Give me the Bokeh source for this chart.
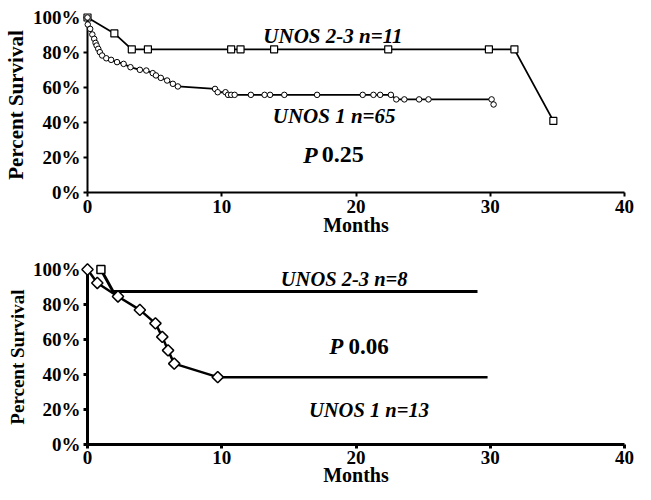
import math
from bokeh.plotting import figure
from bokeh.layouts import column
from bokeh.models import Label, FixedTicker
from bokeh.embed import file_html
from bokeh.resources import INLINE

# ---------------- data ----------------
# Top panel
top_unos23_months = [0, 2.0, 3.3, 4.5, 10.7, 11.4, 13.9, 22.4, 29.9, 31.8, 34.7]
top_unos23_surv = [100, 90.9, 81.8, 81.8, 81.8, 81.8, 81.8, 81.8, 81.8, 81.8, 40.9]

top_unos1_months = [0, 0.02, 0.2, 0.36, 0.5, 0.6, 0.68, 0.8, 0.92, 1.09, 1.4, 1.76, 2.2,
                    2.69, 3.2, 3.9, 4.38, 4.86, 5.1, 5.46, 5.93, 6.36, 6.73, 9.5, 9.7,
                    10.28, 10.47, 10.7, 10.96, 12.17, 13.19, 13.6, 14.66, 17.1, 20.5,
                    21.3, 21.8, 22.6, 23.0, 23.6, 24.7, 25.4, 30.1, 30.25]
top_unos1_surv = [100, 96.0, 93.5, 90.3, 87.8, 85.5, 84.0, 82.1, 80.2, 78.3, 76.7, 75.8, 74.5,
                  73.5, 71.6, 70.1, 69.7, 68.2, 66.9, 65.5, 64.0, 62.1, 60.6, 59.2, 57.3,
                  57.3, 55.8, 55.8, 55.8, 55.8, 55.8, 55.8, 55.8, 55.8, 55.8,
                  55.8, 55.8, 55.8, 53.2, 53.2, 53.2, 53.2, 53.2, 50.3]

# Bottom panel
bot_unos23_months = [1.0, 1.9, 29.05]
bot_unos23_surv = [100, 87.5, 87.5]

bot_unos1_months = [0, 0.73, 2.27, 3.9, 5.06, 5.57, 6.0, 6.46, 9.7, 29.8]
bot_unos1_surv = [100, 92.3, 84.6, 76.9, 69.2, 61.5, 53.8, 46.2, 38.5, 38.5]

x_ticks = [0, 10, 20, 30, 40]
y_ticks = [0, 20, 40, 60, 80, 100]
y_tick_labels = ["0%", "20%", "40%", "60%", "80%", "100%"]

FONT = "Liberation Serif"


def make_panel(height, b_top, b_bottom, axis_w, ylabel_size, xlabel_standoff, xtick_standoff):
    p = figure(width=635, height=height, x_range=(0, 40), y_range=(0, 100),
               output_backend="svg", toolbar_location=None,
               min_border_left=81, min_border_right=11,
               min_border_top=b_top, min_border_bottom=b_bottom)
    p.outline_line_color = None
    p.grid.visible = False
    p.background_fill_color = "white"
    p.border_fill_color = "white"
    for ax in (p.xaxis[0], p.yaxis[0]):
        ax.axis_line_width = axis_w
        ax.axis_line_color = "black"
        ax.major_tick_line_width = axis_w
        ax.major_tick_line_color = "black"
        ax.major_tick_out = 4
        ax.major_tick_in = 0
        ax.minor_tick_line_color = None
        ax.major_label_text_font = FONT
        ax.major_label_text_font_style = "bold"
        ax.major_label_text_font_size = "19px"
        ax.major_label_text_color = "black"
        ax.major_label_standoff = 3
        ax.axis_label_text_font = FONT
        ax.axis_label_text_font_style = "bold"
        ax.axis_label_text_color = "black"
    p.xaxis.ticker = FixedTicker(ticks=x_ticks)
    p.yaxis.ticker = FixedTicker(ticks=y_ticks)
    p.yaxis.major_label_overrides = dict(zip(y_ticks, y_tick_labels))
    p.xaxis.major_label_standoff = xtick_standoff
    p.xaxis.axis_label = "Months"
    p.xaxis.axis_label_text_font_size = "20px"
    p.xaxis.axis_label_standoff = xlabel_standoff
    p.yaxis.axis_label = "Percent Survival"
    p.yaxis.axis_label_text_font_size = ylabel_size
    p.yaxis.axis_label_standoff = 2
    return p


def add_label(p, x, y, text, style, size):
    p.add_layout(Label(x=x, y=y, text=text, text_font=FONT, text_font_style=style,
                       text_font_size=size, text_baseline="middle", text_align="left",
                       text_color="black"))


# ---------------- top panel ----------------
p1 = make_panel(240, 17, 48, 2, "21px", -2, 3)
p1.line(top_unos23_months, top_unos23_surv, line_color="black", line_width=1.8, level="overlay")
p1.scatter(top_unos23_months, top_unos23_surv, marker="square", size=7,
           fill_color="white", line_color="black", line_width=1.2, level="overlay")
p1.line(top_unos1_months, top_unos1_surv, line_color="black", line_width=1.8, level="overlay")
p1.scatter(top_unos1_months, top_unos1_surv, marker="circle", size=5.5,
           fill_color="white", line_color="black", line_width=1.0, level="overlay")
add_label(p1, 13.1, 89.7, "UNOS 2-3 n=11", "bold italic", "21px")
add_label(p1, 13.8, 44.0, "UNOS 1 n=65", "bold italic", "21px")
add_label(p1, 16.05, 21.7, "P", "bold italic", "24px")
add_label(p1, 17.45, 21.7, "0.25", "bold", "24px")

# ---------------- bottom panel ----------------
p2 = make_panel(250, 29, 46, 3, "19px", -3, 2)
p2.line(bot_unos23_months, bot_unos23_surv, line_color="black", line_width=3, level="overlay")
p2.scatter(bot_unos23_months[:1], bot_unos23_surv[:1], marker="square", size=8,
           fill_color="white", line_color="black", line_width=1.5, level="overlay")
p2.line(bot_unos1_months, bot_unos1_surv, line_color="black", line_width=2.5, level="overlay")
p2.scatter(bot_unos1_months[:-1], bot_unos1_surv[:-1], marker="square", angle=math.pi / 4,
           size=8, fill_color="white", line_color="black", line_width=1.5, level="overlay")
add_label(p2, 14.4, 94.5, "UNOS 2-3 n=8", "bold italic", "20.5px")
add_label(p2, 18.0, 56.0, "P", "bold italic", "23px")
add_label(p2, 19.45, 56.0, "0.06", "bold", "23px")
add_label(p2, 16.5, 19.5, "UNOS 1 n=13", "bold italic", "20.5px")

layout = column(p1, p2, spacing=0)
open("out.html", "w").write(file_html(layout, INLINE))
